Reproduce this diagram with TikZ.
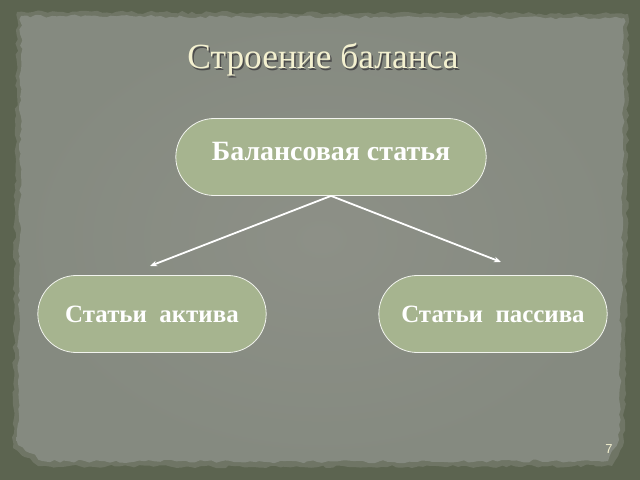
\documentclass[tikz,border=0pt]{standalone}
\usepackage{fontspec}
\setmainfont{Liberation Serif}
\setsansfont{Liberation Sans}
\usetikzlibrary{positioning}
\usetikzlibrary{arrows.meta,shapes,calc}
\usetikzlibrary{decorations.pathmorphing}

\definecolor{frame}{HTML}{5C6450}
\definecolor{edge}{HTML}{6F7565}
\definecolor{paper}{HTML}{858A80}
\definecolor{paperlight}{HTML}{8D9087}
\definecolor{sage}{HTML}{A6B48F}
\definecolor{cream}{HTML}{F4F1D0}

\tikzset{
  item/.style={rounded rectangle, draw=white!85!sage, line width=0.8bp, fill=sage,
    minimum height=77bp, text=white, font=\bfseries\fontsize{25}{27}\selectfont},
  link/.style={draw=white, line width=1.8bp, -{Stealth[length=7bp,width=5.5bp]}},
  torn/.style={decorate, decoration={random steps, segment length=5bp, amplitude=1.6bp}}
}

\begin{document}
\begin{tikzpicture}[x=1bp, y=-1bp]
	\pgfmathsetseed{7}
	\useasboundingbox (0,0) rectangle (640,480);

	% dark board and torn paper
	\fill[frame] (0,0) rectangle (640,480);
	\fill[edge, torn] (17,12) -- (330,13) -- (628,14) -- (627,250) -- (624,442) -- (612,466) -- (300,467) -- (38,466) -- (13,448) -- (15,200) -- cycle;
	\shade[inner color=paperlight, outer color=paper, torn] (21,16) -- (330,17) -- (624,18) -- (622,250) -- (619,440) -- (608,461) -- (300,462) -- (42,461) -- (18,445) -- (20,200) -- cycle;

	% title with shadow
	\def\tx{323};
	\def\ty{60};
	\node[black!70, font=\fontsize{35.5}{38}\selectfont] (titleshadow) at (\tx+1.5, \ty+1.5) {Строение баланса};
	\node[cream, font=\fontsize{35.5}{38}\selectfont] (title) at (\tx, \ty) {Строение баланса};

	% boxes
	\node[item, minimum width=317bp, text depth=12bp, font=\bfseries\fontsize{28}{30}\selectfont] (balance) at (331,157) {Балансовая статья};
	\foreach \x/\name/\txt in {152/active/Статьи\ \ актива, 493/passive/Статьи\ \ пассива} {
		\node[item, minimum width=235bp] (\name) at (\x,314) {\txt};
	}

	% arrows
	\coordinate (activeend) at (150,266);
	\coordinate (passiveend) at (501,262);
	\draw[link] (balance.south) -- (activeend);
	\draw[link] (balance.south) -- (passiveend);

	\node[cream, font=\sffamily\fontsize{13}{13}\selectfont] (pagenum) at (609,449) {7};
\end{tikzpicture}
\end{document}
